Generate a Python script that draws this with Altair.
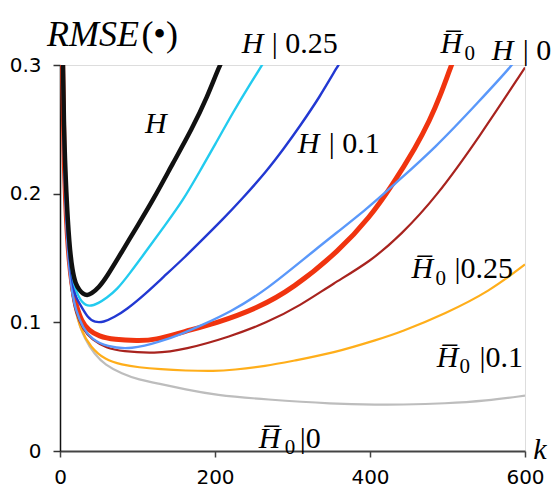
import altair as alt
import pandas as pd

# ---- series data (k, RMSE) ----
h_k = [1, 3, 5, 8, 12, 16, 20, 25, 30, 35, 40, 50, 60, 80, 100, 120, 146, 170, 190, 206, 215]
h_v = [0.45, 0.32, 0.25, 0.2, 0.16, 0.14, 0.13, 0.125, 0.122, 0.121, 0.122, 0.127, 0.135, 0.155, 0.175, 0.195, 0.224, 0.25, 0.275, 0.3, 0.31]

h25_k = [1, 3, 5, 8, 12, 16, 20, 28, 38, 50, 60, 73, 90, 112, 135, 159, 180, 200, 223, 245, 261, 270]
h25_v = [0.45, 0.31, 0.24, 0.19, 0.155, 0.135, 0.125, 0.115, 0.112, 0.115, 0.119, 0.125, 0.138, 0.156, 0.175, 0.195, 0.217, 0.238, 0.263, 0.285, 0.3, 0.31]

h10_k = [1, 3, 5, 8, 12, 16, 20, 24, 36, 45, 56, 70, 86, 110, 133, 160, 185, 210, 235, 266, 290, 309, 335, 359, 370]
h10_v = [0.45, 0.31, 0.235, 0.185, 0.15, 0.13, 0.12, 0.116, 0.103, 0.1, 0.1, 0.104, 0.11, 0.122, 0.135, 0.15, 0.165, 0.18, 0.196, 0.217, 0.236, 0.252, 0.275, 0.3, 0.31]

h0bar_k = [1, 3, 5, 8, 12, 16, 20, 28, 37, 50, 70, 100, 122, 161, 200, 255, 300, 361, 400, 427, 460, 477, 490, 505, 515]
h0bar_v = [0.45, 0.3, 0.23, 0.18, 0.145, 0.127, 0.115, 0.1, 0.094, 0.089, 0.0865, 0.0857, 0.086, 0.093, 0.099, 0.111, 0.126, 0.156, 0.182, 0.205, 0.237, 0.257, 0.275, 0.3, 0.315]

h0_k = [1, 3, 5, 8, 12, 16, 20, 30, 41, 60, 92, 130, 161, 180, 220, 266, 326, 400, 427, 485, 541, 584, 595]
h0_v = [0.45, 0.3, 0.225, 0.175, 0.14, 0.122, 0.11, 0.095, 0.087, 0.081, 0.0788, 0.085, 0.092, 0.097, 0.108, 0.125, 0.155, 0.19, 0.205, 0.236, 0.272, 0.3, 0.31]

hb25_k = [1, 3, 5, 8, 12, 16, 20, 30, 41, 60, 80, 122, 161, 220, 266, 310, 352, 400, 440, 485, 541, 600]
hb25_v = [0.45, 0.3, 0.225, 0.175, 0.14, 0.12, 0.108, 0.094, 0.0865, 0.08, 0.0775, 0.0757, 0.0788, 0.089, 0.0995, 0.113, 0.13, 0.147, 0.168, 0.197, 0.244, 0.298]

hb10_k = [1, 3, 5, 8, 13, 20, 26, 40, 58, 80, 101, 130, 161, 200, 223, 266, 300, 352, 412, 438, 498, 554, 600]
hb10_v = [0.45, 0.3, 0.22, 0.17, 0.135, 0.11, 0.095, 0.08, 0.071, 0.067, 0.065, 0.0635, 0.0625, 0.062, 0.063, 0.066, 0.07, 0.076, 0.087, 0.092, 0.107, 0.124, 0.145]

hb0_k = [1, 3, 5, 8, 13, 20, 32, 45, 58, 80, 101, 130, 161, 200, 266, 352, 412, 438, 498, 550, 600]
hb0_v = [0.45, 0.3, 0.22, 0.17, 0.133, 0.106, 0.0865, 0.075, 0.067, 0.06, 0.0555, 0.052, 0.048, 0.0435, 0.04, 0.0366, 0.036, 0.036, 0.0369, 0.039, 0.043]

series = [
    (hb0_k, hb0_v, "#BDBDBD", 2.2),
    (hb10_k, hb10_v, "#FFAE1A", 2.2),
    (hb25_k, hb25_v, "#A8231E", 2.2),
    (h0bar_k, h0bar_v, "#F0340F", 5),
    (h0_k, h0_v, "#5A98FA", 2.4),
    (h10_k, h10_v, "#2238D2", 2.4),
    (h25_k, h25_v, "#22CBEF", 2.4),
    (h_k, h_v, "#111111", 4.5),
]

x_ticks = [0, 200, 400, 600]
y_ticks = [0, 0.1, 0.2, 0.3]

xscale = alt.Scale(domain=[0, 600], nice=False, zero=False)
yscale = alt.Scale(domain=[0, 0.3], nice=False, zero=False)

xaxis = alt.Axis(values=x_ticks, title=None, grid=False, domainColor="#444444",
                 domainWidth=2, tickColor="#444444", tickWidth=1.5, tickSize=6,
                 labelFont="DejaVu Sans", labelFontSize=20, labelColor="#000000",
                 labelPadding=10, labelFlush=False, labelOverlap=False)
yaxis = alt.Axis(values=y_ticks, title=None, grid=False, format="~g",
                 domainColor="#111111", domainWidth=1.5, tickColor="#333333",
                 tickWidth=1.5, tickSize=7, labelFont="DejaVu Sans",
                 labelFontSize=20, labelColor="#000000", labelPadding=12,
                 labelFlush=False, labelOverlap=False)

layers = []
for ks, vs, color, w in series:
    d = pd.DataFrame({"k": ks, "v": vs})
    layers.append(
        alt.Chart(d).mark_line(color=color, strokeWidth=w, clip=True,
                               interpolate="basis").encode(
            x=alt.X("k:Q", scale=xscale, axis=xaxis),
            y=alt.Y("v:Q", scale=yscale, axis=yaxis),
        )
    )

# ---- annotation texts (data coordinates) ----
ital_text = ["RMSE", "H", "H\u0305", "H", "H", "H", "H\u0305", "H\u0305", "H\u0305", "k"]
ital_k = [-16.8, 234.6, 491.0, 557.0, 109.6, 306.8, 453.7, 486.0, 256.5, 610.7]
ital_v = [0.3147, 0.3093, 0.3093, 0.3039, 0.2473, 0.2317, 0.1347, 0.0656, 0.0027, -0.006]
ital_size = [36, 30, 30, 30, 30, 30, 30, 30, 30, 30]

reg_text = ["(\u2022)", "| 0.25", "| 0", "| 0.1", "|0.25", "|0.1", "|0"]
reg_k = [105.0, 273.3, 597.0, 346.7, 509.1, 541.4, 309.3]
reg_v = [0.3147, 0.3093, 0.3039, 0.2317, 0.1347, 0.0656, 0.0027]
reg_size = [36, 30, 30, 30, 30, 30, 30]

sub_text = ["0", "0", "0", "0"]
sub_k = [522.0, 484.6, 515.6, 290.0]
sub_v = [0.3039, 0.1292, 0.0609, -0.0027]


def text_layer(texts, ks, vs, sizes, style):
    d = pd.DataFrame({"t": texts, "k": ks, "v": vs, "s": sizes})
    return alt.Chart(d).mark_text(
        font="Liberation Serif", fontStyle=style, align="left",
        baseline="alphabetic", color="#000000",
    ).encode(
        x=alt.X("k:Q", scale=xscale, axis=xaxis),
        y=alt.Y("v:Q", scale=yscale, axis=yaxis),
        text="t:N",
        size=alt.Size("s:Q", scale=None, legend=None),
    )


layers.append(text_layer(ital_text, ital_k, ital_v, ital_size, "italic"))
layers.append(text_layer(reg_text, reg_k, reg_v, reg_size, "normal"))
layers.append(text_layer(sub_text, sub_k, sub_v, [21] * len(sub_text), "normal"))

chart = alt.layer(*layers).properties(
    width=465, height=386,
    autosize=alt.AutoSizeParams(type="none"),
    padding={"left": 52, "top": 57, "right": 26, "bottom": 38},
).configure_view(
    stroke="#9A9A9A", strokeWidth=2
).configure(background="white")

chart.save("out.html", embed_options={"renderer": "svg", "actions": False})
